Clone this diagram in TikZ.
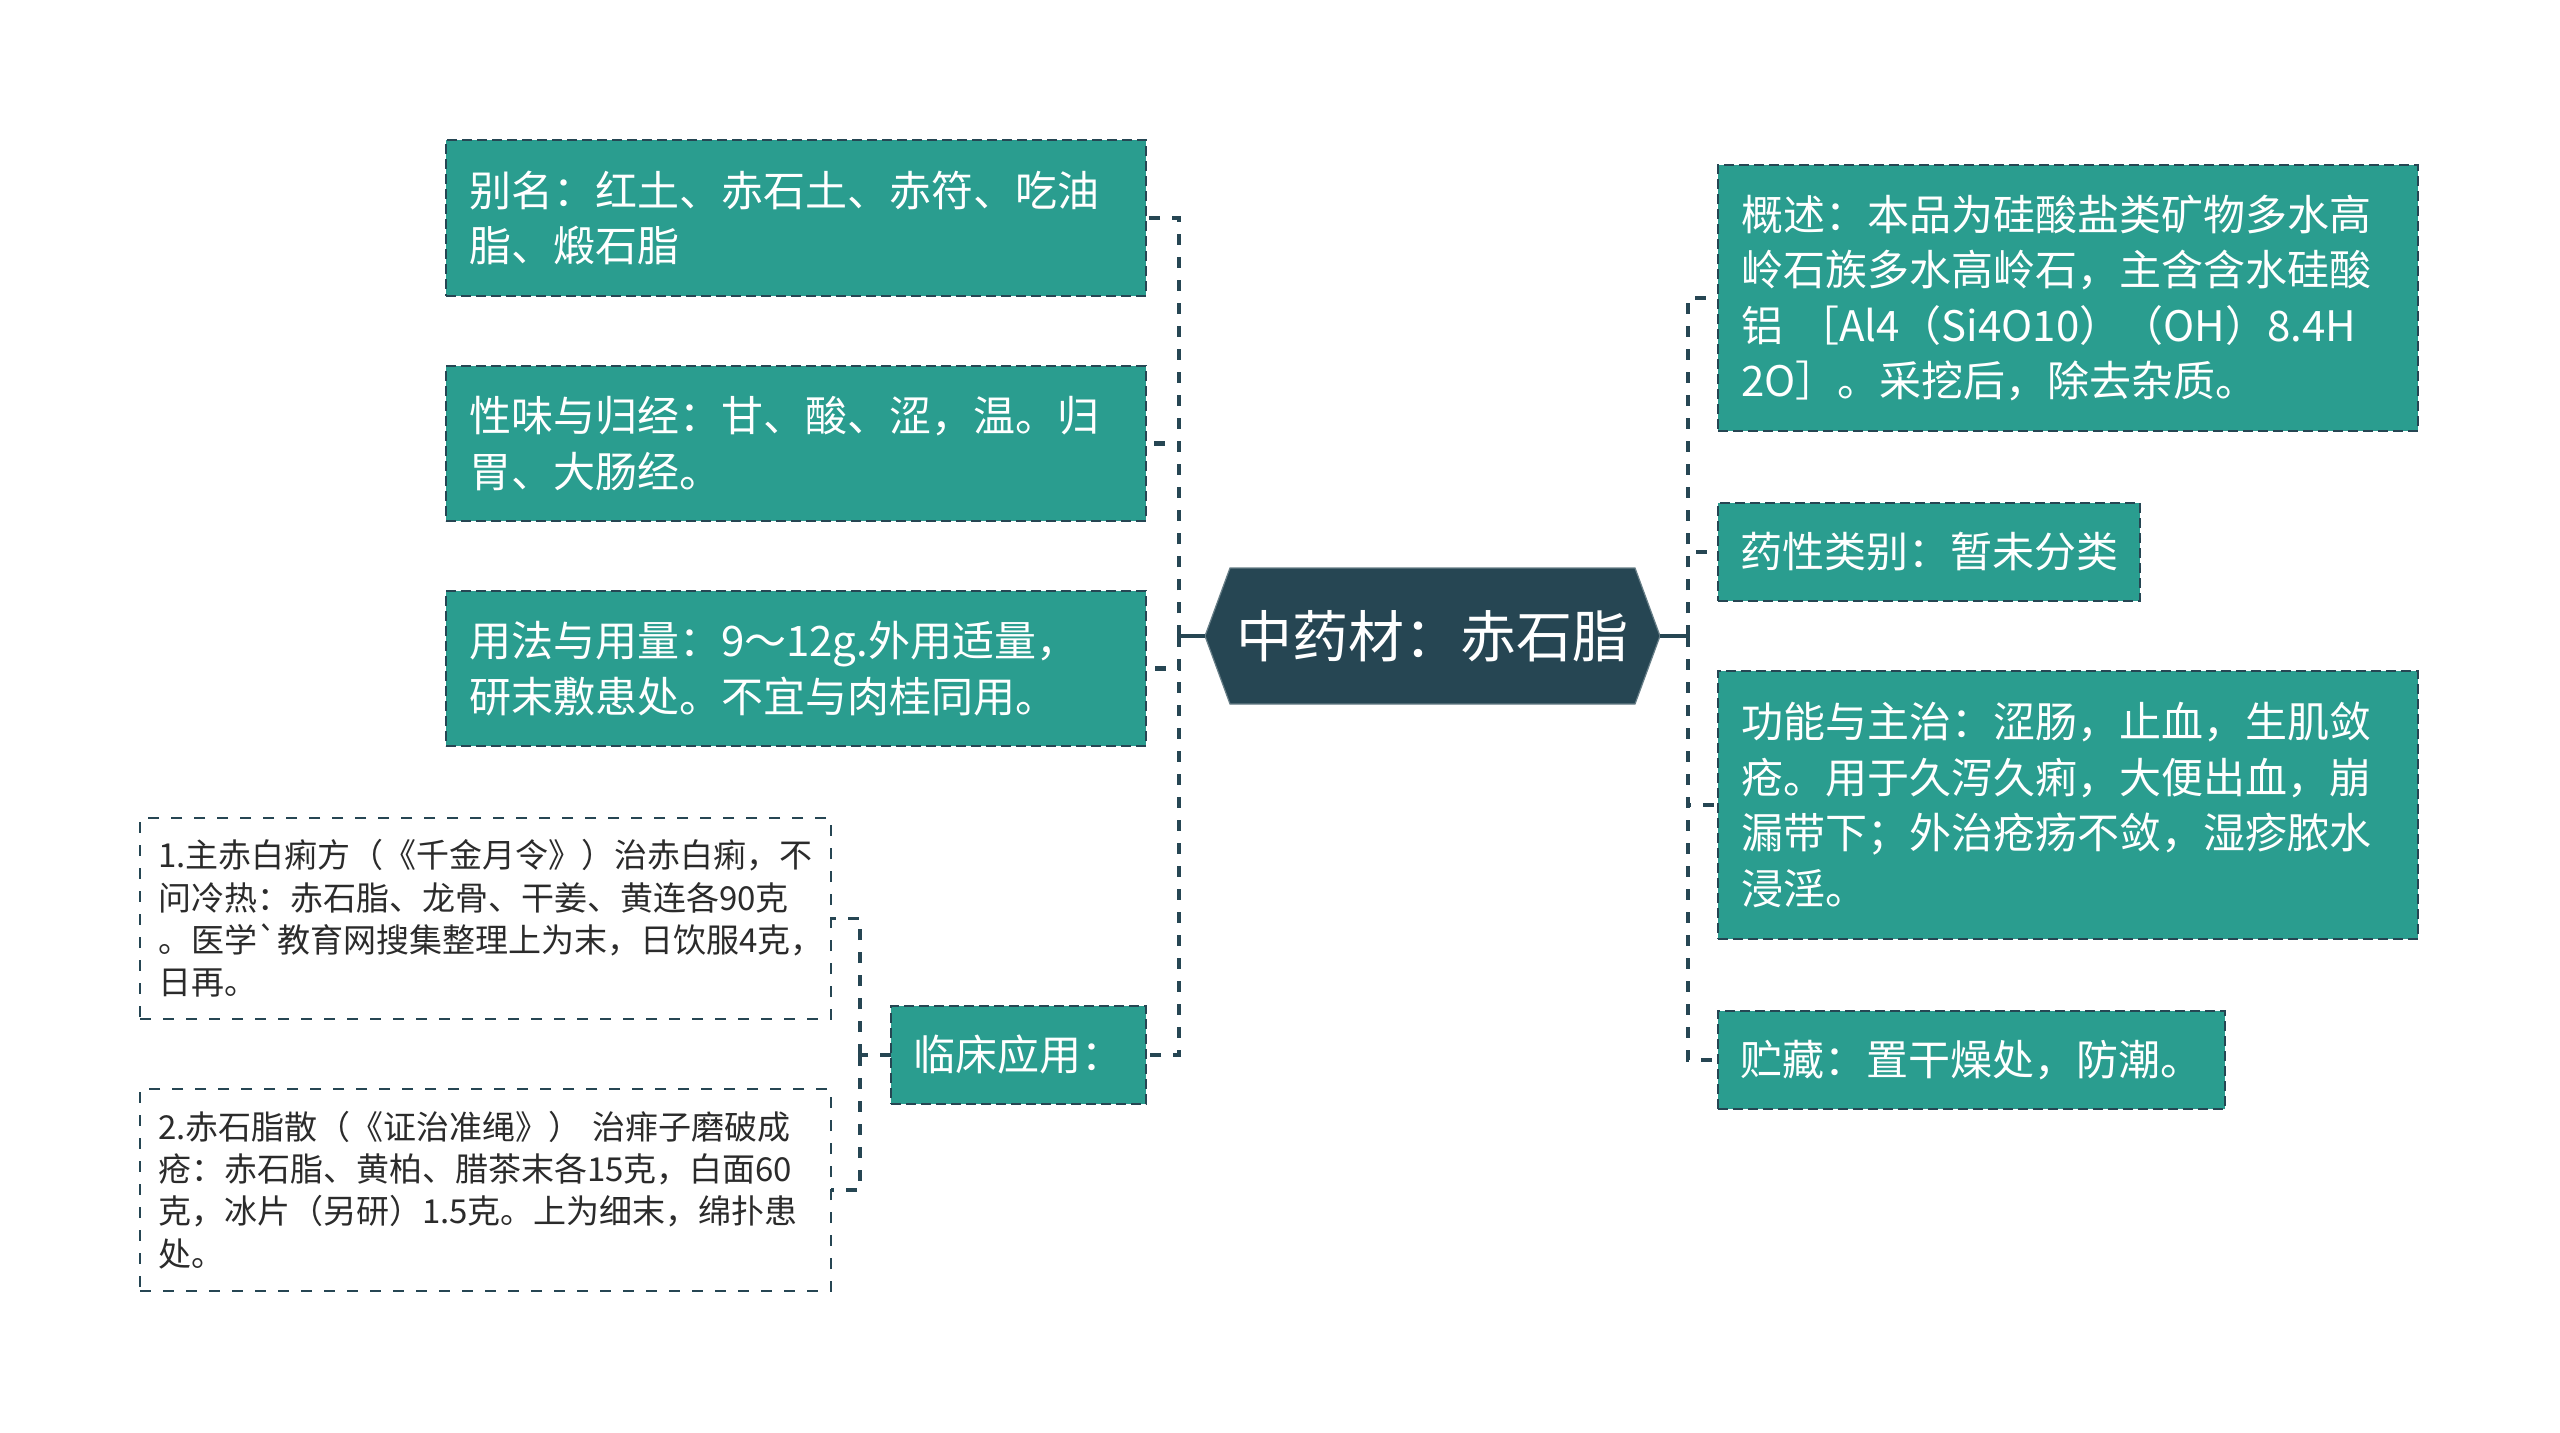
\documentclass[tikz,border=0pt]{standalone}
\usepackage{fontspec}
\setmainfont{Noto Sans CJK SC}
\usetikzlibrary{backgrounds}
\definecolor{teal1}{HTML}{2A9D8F}
\definecolor{dark1}{HTML}{264653}
\definecolor{txtdark}{HTML}{2B2B2B}
\tikzset{
 tealbox/.style={draw=dark1, line width=1pt, dash pattern=on 5pt off 2.5pt, fill=teal1, text=white,
   font=\fontsize{21}{27.75}\selectfont, align=left, inner xsep=11.5pt, inner ysep=0pt, outer sep=0pt},
 subbox/.style={draw=dark1, line width=1.3pt, dash pattern=on 5.5pt off 6pt, fill=white, text=txtdark,
   font=\fontsize{16.5}{21.2}\selectfont, align=left, inner xsep=9pt, inner ysep=0pt, outer sep=0pt},
 conn/.style={draw=dark1, line width=2.2pt, dash pattern=on 5.5pt off 6pt},
 subconn/.style={draw=dark1, line width=1.7pt, dash pattern=on 5.5pt off 6pt},
 hubconn/.style={draw=dark1, line width=2.2pt},
 hubnode/.style={font=\fontsize{28}{34}\selectfont, text=white, minimum width=227.5pt, minimum height=68pt, inner sep=0pt, outer sep=0pt},
}
\begin{document}
\begin{tikzpicture}[x=0.5pt,y=-0.5pt]
\useasboundingbox (0,0) rectangle (2560,1433);

% central topic
\node[hubnode] (hub) at (1432.5,636) {中药材：赤石脂};

% left branch
\node[tealbox, text width=327pt, minimum height=78pt] (bm) at (796,218) {别名：红土、赤石土、赤符、吃油\\脂、煅石脂};
\node[tealbox, text width=327pt, minimum height=77.5pt] (xw) at (796,443.5) {性味与归经：甘、酸、涩，温。归\\胃、大肠经。};
\node[tealbox, text width=327pt, minimum height=77.5pt] (yf) at (796,668.5) {用法与用量：9～12g.外用适量，\\研末敷患处。不宜与肉桂同用。};
\node[tealbox, text width=105pt, inner xsep=11.25pt, minimum height=49pt] (lc) at (1018.5,1055) {临床应用：};

\node[subbox, text width=327.5pt, minimum height=100.5pt] (s1) at (485.5,918.5) {1.主赤白痢方（《千金月令》）治赤白痢，不\\问冷热：赤石脂、龙骨、干姜、黄连各90克\\。医学\textasciigrave 教育网搜集整理上为末，日饮服4克，\\日再。};
\node[subbox, text width=327.5pt, minimum height=101pt] (s2) at (485.5,1190) {2.赤石脂散（《证治准绳》） 治痱子磨破成\\疮：赤石脂、黄柏、腊茶末各15克，白面60\\克，冰片（另研）1.5克。上为细末，绵扑患\\处。};

% right branch
\node[tealbox, text width=327pt, minimum height=133pt] (gs) at (2068,298) {概述：本品为硅酸盐类矿物多水高\\岭石族多水高岭石，主含含水硅酸\\铝 ［Al4（Si4O10）（OH）8.4H\\2O］。采挖后，除去杂质。};
\node[tealbox, text width=189pt, inner xsep=11pt, minimum height=49pt] (yx) at (1929,552) {药性类别：暂未分类};
\node[tealbox, text width=327pt, minimum height=134pt] (gn) at (2068,805) {功能与主治：涩肠，止血，生肌敛\\疮。用于久泻久痢，大便出血，崩\\漏带下；外治疮疡不敛，湿疹脓水\\浸淫。};
\node[tealbox, text width=231pt, inner xsep=11.25pt, minimum height=49pt] (zc) at (1971.5,1060) {贮藏：置干燥处，防潮。};

% junctions
\coordinate (L) at (1179,636);
\coordinate (R) at (1688,636);
\coordinate (S) at (860,1055);

\draw[hubconn] (hub.west) -- (L);
\draw[hubconn] (hub.east) -- (R);
\foreach \n in {bm,xw,yf,lc} \draw[conn] (L) |- (\n.east);
\foreach \n in {gs,yx,gn,zc} \draw[conn] (R) |- (\n.west);
\draw[subconn] (lc.west) -- (S);
\foreach \n in {s1,s2} \draw[subconn] (S) |- (\n.east);

\begin{scope}[on background layer]
\fill[white] (0,0) rectangle (2560,1433);
\fill[dark1, draw=dark1!70!white, line width=0.6pt] (hub.west) -- ([xshift=12.5pt]hub.north west) -- ([xshift=-12.5pt]hub.north east) -- (hub.east) -- ([xshift=-12.5pt]hub.south east) -- ([xshift=12.5pt]hub.south west) -- cycle;
\end{scope}
\end{tikzpicture}
\end{document}
